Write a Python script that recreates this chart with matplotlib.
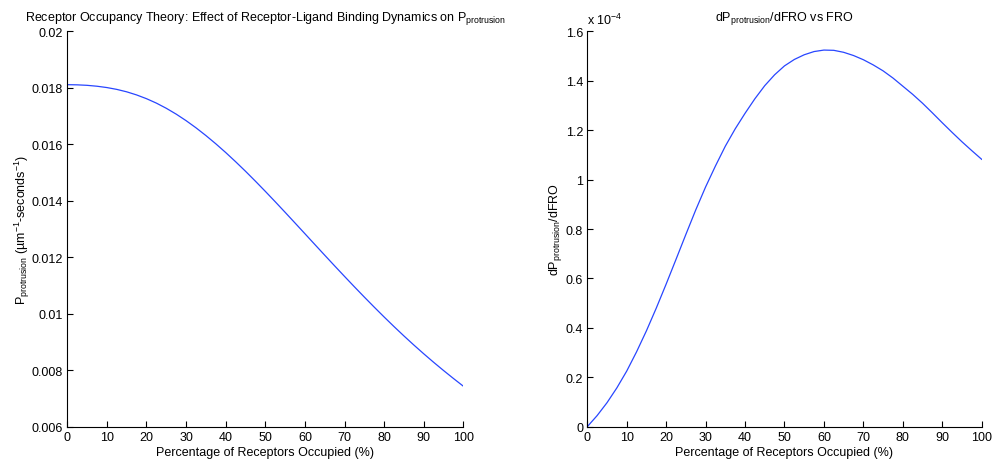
import matplotlib
matplotlib.use('Agg')
import matplotlib.pyplot as plt
from matplotlib.ticker import FuncFormatter

plt.rcParams['font.family'] = ['Liberation Sans', 'DejaVu Sans']
plt.rcParams['mathtext.fontset'] = 'custom'
plt.rcParams['mathtext.rm'] = 'Liberation Sans'
plt.rcParams['mathtext.it'] = 'Liberation Sans'
plt.rcParams['font.size'] = 9

# percentage of receptors occupied, 2.5 % steps
fro = [0, 2.5, 5, 7.5, 10, 12.5, 15, 17.5, 20, 22.5, 25, 27.5, 30, 32.5,
       35, 37.5, 40, 42.5, 45, 47.5, 50, 52.5, 55, 57.5, 60, 62.5, 65,
       67.5, 70, 72.5, 75, 77.5, 80, 82.5, 85, 87.5, 90, 92.5, 95, 97.5, 100]

# P_protrusion (um^-1 s^-1)
p_protrusion = [0.018110, 0.018104, 0.018087, 0.018055, 0.018008, 0.017943,
                0.017857, 0.017747, 0.017614, 0.017457, 0.017274, 0.017067,
                0.016836, 0.016583, 0.016309, 0.016017, 0.015708, 0.015383,
                0.015045, 0.014694, 0.014334, 0.013966, 0.013592, 0.013214,
                0.012834, 0.012453, 0.012073, 0.011696, 0.011323, 0.010954,
                0.010591, 0.010235, 0.009886, 0.009546, 0.009215, 0.008894,
                0.008583, 0.008282, 0.007991, 0.007709, 0.007435]

# dP/dFRO, in units of 1e-4
dp_dfro = [0.0, 0.045, 0.097, 0.157, 0.225, 0.303, 0.388, 0.48, 0.577, 0.677,
           0.778, 0.877, 0.97, 1.055, 1.135, 1.205, 1.268, 1.327, 1.38, 1.424,
           1.46, 1.486, 1.505, 1.518, 1.524, 1.523, 1.515, 1.502, 1.485, 1.464,
           1.44, 1.411, 1.378, 1.345, 1.309, 1.27, 1.23, 1.191, 1.153, 1.117,
           1.082]

x_ticks = list(range(0, 101, 10))
p_ticks = [0.006, 0.008, 0.01, 0.012, 0.014, 0.016, 0.018, 0.02]
dp_ticks = [0, 0.2, 0.4, 0.6, 0.8, 1, 1.2, 1.4, 1.6]

fig = plt.figure(figsize=(9.94, 4.64), dpi=100)
ax1 = fig.add_axes([0.0677, 0.0782, 0.3984, 0.8522])
ax2 = fig.add_axes([0.5908, 0.0782, 0.3968, 0.8522])

fmt = FuncFormatter(lambda v, pos: '%g' % v)

for ax in (ax1, ax2):
    for s in ('top', 'right'):
        ax.spines[s].set_visible(False)
    for s in ('left', 'bottom'):
        ax.spines[s].set_linewidth(0.8)
    ax.tick_params(direction='in', length=4, width=0.8, labelsize=9, pad=3)
    ax.set_xlim(0, 100)
    ax.set_xticks(x_ticks)
    ax.yaxis.set_major_formatter(fmt)
    ax.set_xlabel('Percentage of Receptors Occupied (%)', fontsize=9, labelpad=2)

ax1.plot(fro, p_protrusion, color='#2846ff', lw=0.9)
ax1.set_ylim(0.006, 0.02)
ax1.set_yticks(p_ticks)
ax1.set_ylabel(r'P$_{\mathrm{protrusion}}$ (µm$^{-1}$-seconds$^{-1}$)', fontsize=9, labelpad=0)
ax1.set_title(r'Receptor Occupancy Theory: Effect of Receptor-Ligand Binding Dynamics on P$_{\mathrm{protrusion}}$',
              fontsize=9, pad=8)

ax2.plot(fro, dp_dfro, color='#2846ff', lw=0.9)
ax2.set_ylim(0, 1.6)
ax2.set_yticks(dp_ticks)
ax2.set_ylabel(r'dP$_{\mathrm{protrusion}}$/dFRO', fontsize=9, labelpad=1)
ax2.set_title(r'dP$_{\mathrm{protrusion}}$/dFRO vs FRO', fontsize=9, pad=8)
ax2.text(0, 1.012, r'x 10$^{-4}$', transform=ax2.transAxes, fontsize=9,
         ha='left', va='bottom')

fig.savefig('out.png', dpi=100)
